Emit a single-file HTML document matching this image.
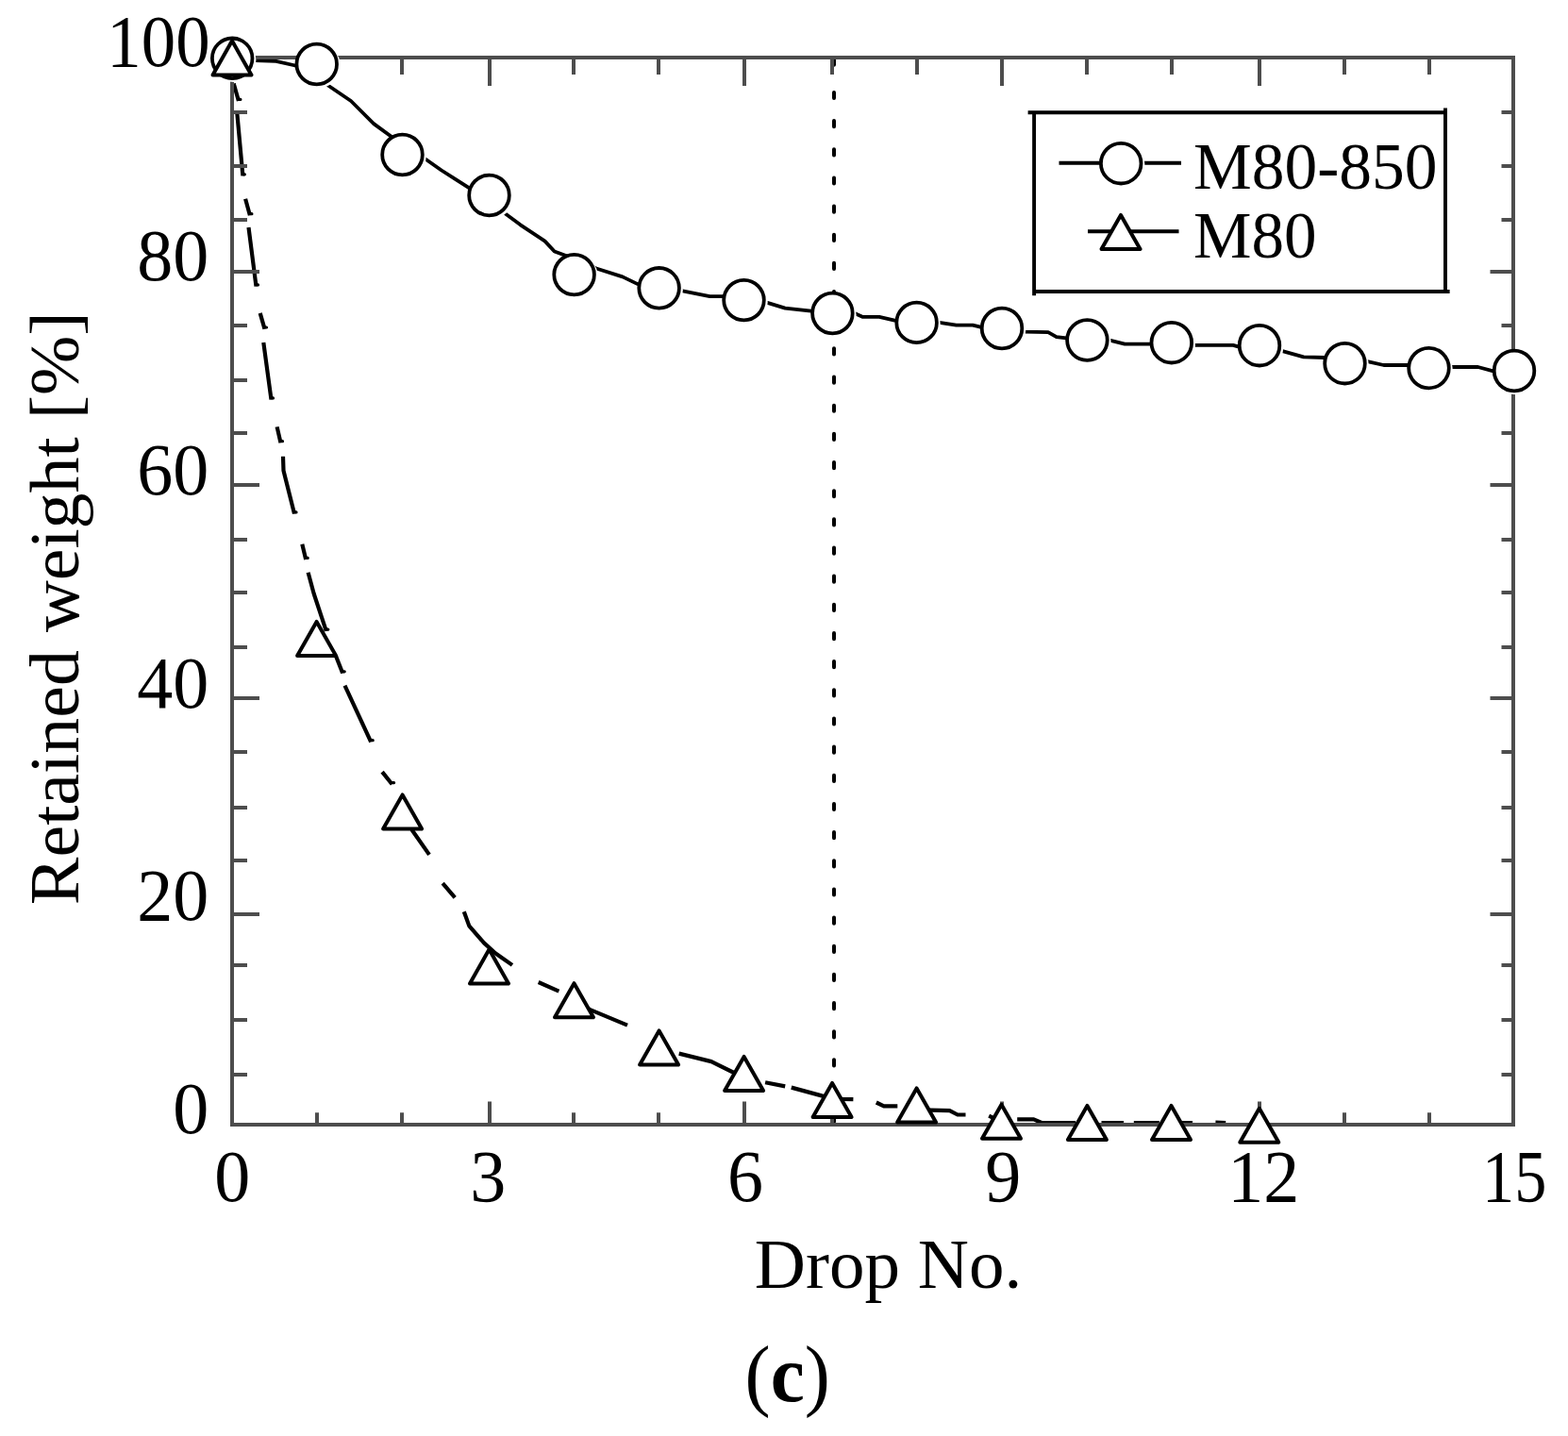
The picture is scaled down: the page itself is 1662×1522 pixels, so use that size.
<!DOCTYPE html>
<html lang="en"><head><meta charset="utf-8"><title>Retained weight vs. Drop No. (c)</title>
<style>html,body{margin:0;padding:0;background:#fff}body{width:1662px;height:1522px;overflow:hidden}svg{display:block}text{font-family:"Liberation Serif","Times New Roman",serif;fill:#000}</style></head><body>
<svg width="1662" height="1522" viewBox="0 0 1662 1522">
<rect width="1662" height="1522" fill="#fff"/>
<path d="M884 63.500 V68.700 M884 97.900 V1189" stroke="#000" stroke-width="4" stroke-linecap="round" stroke-dasharray="6.200 23.960" fill="none"/>
<path d="M246.3 62.5 L270.9 64.1 L292.6 64.9 L313.0 69.5 L335.0 80.0 L347.3 90.2 L372.0 107.0 L396.1 131.1 L414.1 144.3 L430.0 156.0 L450.5 168.3 L467.9 180.5 L483.8 190.6 L497.5 199.3 L517.0 213.0 L535.0 226.0 L551.6 238.3 L577.6 255.6 L587.7 266.5 L599.3 270.8 L615.0 277.0 L632.0 284.5 L659.9 293.4 L675.4 300.9 L700.0 304.0 L723.5 308.4 L752.3 314.1 L766.0 314.1 L790.0 317.0 L813.4 320.9 L832.2 326.6 L859.6 329.6 L883.0 331.0 L905.8 332.1 L914.6 335.9 L932.0 335.9 L948.3 339.6 L972.0 341.0 L997.4 342.1 L1013.6 344.6 L1031.1 344.6 L1039.4 346.6 L1062.0 349.0 L1086.0 351.6 L1111.0 352.1 L1119.8 357.1 L1130.5 358.3 L1152.0 360.0 L1177.2 360.8 L1192.2 364.6 L1219.6 364.6 L1242.0 365.0 L1267.0 365.8 L1307.0 365.8 L1313.3 367.6 L1335.0 369.0 L1359.4 372.1 L1381.8 378.3 L1403.8 379.0 L1425.0 381.0 L1450.5 383.3 L1466.7 387.0 L1493.0 387.0 L1515.0 388.0 L1539.1 389.0 L1566.6 389.0 L1582.8 393.3 L1605.0 393.0" stroke="#000" stroke-width="3.800" fill="none" stroke-linejoin="round"/>
<path d="M247.8 88.5 L248.2 90.2 L252.9 107.0 M251.4 120.9 L257.4 186.4 M260.1 210.8 L264.9 228.3 M263.5 240.9 L271.5 303.5 M275.7 331.8 L280.5 348.6 M279.3 363.0 L287.5 423.5 M293.6 452.4 L297.5 469.3 M300.0 483.7 L300.5 498.8 L312.0 544.5 M320.3 576.7 L324.2 593.0 M326.6 606.8 L332.6 629.0 L341.0 654.3 L345.8 668.8 M356.0 695.2 L363.2 713.4 M365.5 726.7 L393.2 786.3 M405.1 818.1 L415.6 831.2 M429.0 862.0 L436.9 880.0 L455.0 905.9 M469.2 936.1 L482.2 951.3 M491.8 966.2 L497.3 981.4 L513.0 999.4 L525.0 1010.3 L543.0 1022.9 M570.7 1041.0 L592.4 1050.6 M602.0 1058.0 L626.0 1070.4 L665.0 1086.6 M719.7 1116.6 L754.0 1125.1 L778.0 1137.0 M811.1 1147.2 L832.2 1151.4 M838.8 1152.6 L871.9 1161.6 L892.4 1164.9 L904.4 1165.2 M928.8 1168.5 L936.8 1172.4 L951.3 1172.4 M975.0 1176.0 L986.8 1176.6 L1006.6 1177.2 L1015.0 1181.5 L1023.5 1181.5 M1048.2 1182.7 L1054.0 1185.5 M1078.2 1186.3 L1095.7 1186.3 L1104.0 1190.0 L1140.0 1190.0 M1167.5 1190.0 L1191.0 1190.0 M1201.8 1190.0 L1228.8 1190.0 M1252.0 1190.0 L1264.0 1190.0 M1288.4 1189.6 L1299.2 1190.0" stroke="#000" stroke-width="4.200" fill="none" stroke-linejoin="round" stroke-linecap="butt"/>
<path d="M253.4 105.4 h1.5 M257.9 184.8 h1.5 M265.4 226.7 h1.5 M272.0 301.9 h1.5 M281.0 347.0 h1.5 M288.0 421.9 h1.5 M298.0 467.7 h1.5 M312.5 542.9 h1.5 M324.7 591.4 h1.5 M346.3 667.2 h1.5 M363.7 711.8 h1.5 M393.7 784.7 h1.5 M416.1 829.6 h1.5" stroke="#000" stroke-width="3.200" fill="none" stroke-linecap="round"/>
<g stroke="#4d4d4d" fill="none" stroke-linecap="butt" stroke-width="4">
<rect x="246" y="61" width="1358" height="1131"/>
<path d="M336 61 V79 M336 1192 V1179.2 M426 61 V79 M426 1192 V1179.2 M519 61 V91 M519 1192 V1167.4 M608 61 V79 M608 1192 V1179.2 M698 61 V79 M698 1192 V1179.2 M789 61 V91 M789 1192 V1167.4 M882 61 V79 M882 1192 V1179.2 M972 61 V79 M972 1192 V1179.2 M1062 61 V91 M1062 1192 V1167.4 M1152 61 V79 M1152 1192 V1179.2 M1242 61 V79 M1242 1192 V1179.2 M1335 61 V91 M1335 1192 V1167.4 M1425 61 V79 M1425 1192 V1179.2 M1515 61 V79 M1515 1192 V1179.2 M246 119 H262 M1604 119 H1591.5 M246 176 H262 M1604 176 H1591.5 M246 233 H262 M1604 233 H1591.5 M246 288 H275 M1604 288 H1579.5 M246 345 H262 M1604 345 H1591.5 M246 403 H262 M1604 403 H1591.5 M246 459 H262 M1604 459 H1591.5 M246 514 H275 M1604 514 H1579.5 M246 572 H262 M1604 572 H1591.5 M246 628 H262 M1604 628 H1591.5 M246 686 H262 M1604 686 H1591.5 M246 740 H275 M1604 740 H1579.5 M246 797 H262 M1604 797 H1591.5 M246 856 H262 M1604 856 H1591.5 M246 912 H262 M1604 912 H1591.5 M246 969 H275 M1604 969 H1579.5 M246 1023 H262 M1604 1023 H1591.5 M246 1081 H262 M1604 1081 H1591.5 M246 1139 H262 M1604 1139 H1591.5"/>
</g>
<circle cx="248.20" cy="63.80" r="23.200" fill="#fff" stroke="none"/><circle cx="246.20" cy="61.80" r="21.300" fill="#fff" stroke="#000" stroke-width="3.800"/>
<circle cx="337.70" cy="70.00" r="23.200" fill="#fff" stroke="none"/><circle cx="335.70" cy="68.00" r="21.300" fill="#fff" stroke="#000" stroke-width="3.800"/>
<circle cx="428.50" cy="166.00" r="23.200" fill="#fff" stroke="none"/><circle cx="426.50" cy="164.00" r="21.300" fill="#fff" stroke="#000" stroke-width="3.800"/>
<circle cx="520.50" cy="209.00" r="23.200" fill="#fff" stroke="none"/><circle cx="518.50" cy="207.00" r="21.300" fill="#fff" stroke="#000" stroke-width="3.800"/>
<circle cx="610.60" cy="293.10" r="23.200" fill="#fff" stroke="none"/><circle cx="608.60" cy="291.10" r="21.300" fill="#fff" stroke="#000" stroke-width="3.800"/>
<circle cx="700.60" cy="307.30" r="23.200" fill="#fff" stroke="none"/><circle cx="698.60" cy="305.30" r="21.300" fill="#fff" stroke="#000" stroke-width="3.800"/>
<circle cx="790.50" cy="320.10" r="23.200" fill="#fff" stroke="none"/><circle cx="788.50" cy="318.10" r="21.300" fill="#fff" stroke="#000" stroke-width="3.800"/>
<circle cx="884.40" cy="334.00" r="23.200" fill="#fff" stroke="none"/><circle cx="882.40" cy="332.00" r="21.300" fill="#fff" stroke="#000" stroke-width="3.800"/>
<circle cx="973.60" cy="343.90" r="23.200" fill="#fff" stroke="none"/><circle cx="971.60" cy="341.90" r="21.300" fill="#fff" stroke="#000" stroke-width="3.800"/>
<circle cx="1064.00" cy="350.00" r="23.200" fill="#fff" stroke="none"/><circle cx="1062.00" cy="348.00" r="21.300" fill="#fff" stroke="#000" stroke-width="3.800"/>
<circle cx="1154.40" cy="362.50" r="23.200" fill="#fff" stroke="none"/><circle cx="1152.40" cy="360.50" r="21.300" fill="#fff" stroke="#000" stroke-width="3.800"/>
<circle cx="1243.80" cy="365.20" r="23.200" fill="#fff" stroke="none"/><circle cx="1241.80" cy="363.20" r="21.300" fill="#fff" stroke="#000" stroke-width="3.800"/>
<circle cx="1337.00" cy="368.20" r="23.200" fill="#fff" stroke="none"/><circle cx="1335.00" cy="366.20" r="21.300" fill="#fff" stroke="#000" stroke-width="3.800"/>
<circle cx="1427.50" cy="387.20" r="23.200" fill="#fff" stroke="none"/><circle cx="1425.50" cy="385.20" r="21.300" fill="#fff" stroke="#000" stroke-width="3.800"/>
<circle cx="1516.50" cy="392.10" r="23.200" fill="#fff" stroke="none"/><circle cx="1514.50" cy="390.10" r="21.300" fill="#fff" stroke="#000" stroke-width="3.800"/>
<circle cx="1607.00" cy="395.00" r="23.200" fill="#fff" stroke="none"/><circle cx="1605.00" cy="393.00" r="21.300" fill="#fff" stroke="#000" stroke-width="3.800"/>
<path d="M246.00 43.35 l20.50 36.10 h-41.00 z" fill="#fff" stroke="#000" stroke-width="4" stroke-linejoin="round"/>
<path d="M335.60 658.95 l20.50 36.10 h-41.00 z" fill="#fff" stroke="#000" stroke-width="4" stroke-linejoin="round"/>
<path d="M426.60 842.45 l20.50 36.10 h-41.00 z" fill="#fff" stroke="#000" stroke-width="4" stroke-linejoin="round"/>
<path d="M518.50 1006.35 l20.50 36.10 h-41.00 z" fill="#fff" stroke="#000" stroke-width="4" stroke-linejoin="round"/>
<path d="M608.50 1042.15 l20.50 36.10 h-41.00 z" fill="#fff" stroke="#000" stroke-width="4" stroke-linejoin="round"/>
<path d="M698.60 1092.45 l20.50 36.10 h-41.00 z" fill="#fff" stroke="#000" stroke-width="4" stroke-linejoin="round"/>
<path d="M788.60 1119.95 l20.50 36.10 h-41.00 z" fill="#fff" stroke="#000" stroke-width="4" stroke-linejoin="round"/>
<path d="M882.10 1147.95 l20.50 36.10 h-41.00 z" fill="#fff" stroke="#000" stroke-width="4" stroke-linejoin="round"/>
<path d="M971.60 1153.45 l20.50 36.10 h-41.00 z" fill="#fff" stroke="#000" stroke-width="4" stroke-linejoin="round"/>
<path d="M1061.50 1170.75 l20.50 36.10 h-41.00 z" fill="#fff" stroke="#000" stroke-width="4" stroke-linejoin="round"/>
<path d="M1152.40 1171.95 l20.50 36.10 h-41.00 z" fill="#fff" stroke="#000" stroke-width="4" stroke-linejoin="round"/>
<path d="M1241.50 1171.95 l20.50 36.10 h-41.00 z" fill="#fff" stroke="#000" stroke-width="4" stroke-linejoin="round"/>
<path d="M1334.80 1174.75 l20.50 36.10 h-41.00 z" fill="#fff" stroke="#000" stroke-width="4" stroke-linejoin="round"/>
<rect x="1096.100" y="119.300" width="435.900" height="189.700" fill="#fff" stroke="none"/>
<path d="M1089.600 119.300 H1534 M1532 114.600 V311 M1096.100 309 H1536.600 M1096.100 117.400 V313.300" fill="none" stroke="#000" stroke-width="3.900"/>
<path d="M1122.500 172.800 H1252 M1153 245.200 H1249.500" stroke="#000" stroke-width="4" fill="none"/>
<circle cx="1190.20" cy="175.20" r="23.200" fill="#fff" stroke="none"/><circle cx="1188.20" cy="173.20" r="21.300" fill="#fff" stroke="#000" stroke-width="3.800"/>
<path d="M1188.00 227.95 l20.50 36.10 h-41.00 z" fill="#fff" stroke="#000" stroke-width="4" stroke-linejoin="round"/>
<text id="lg1" x="1265" y="199.800" font-size="70" textLength="258.500" lengthAdjust="spacingAndGlyphs">M80-850</text>
<text id="lg2" x="1265" y="273.400" font-size="70" textLength="130.600" lengthAdjust="spacingAndGlyphs">M80</text>
<text class="yl" transform="translate(222.6 70.2) scale(0.934 1)" font-size="78" text-anchor="end">100</text>
<text class="yl" transform="translate(221.3 297.2) scale(0.975 1)" font-size="78" text-anchor="end">80</text>
<text class="yl" transform="translate(221.3 523.8) scale(0.975 1)" font-size="78" text-anchor="end">60</text>
<text class="yl" transform="translate(221.3 749.7) scale(0.975 1)" font-size="78" text-anchor="end">40</text>
<text class="yl" transform="translate(221.3 975.2) scale(0.975 1)" font-size="78" text-anchor="end">20</text>
<text class="yl" transform="translate(221.3 1201.1) scale(0.975 1)" font-size="78" text-anchor="end">0</text>
<text class="xl" transform="translate(246.2 1273.200) scale(0.975 1)" font-size="78" text-anchor="middle">0</text>
<text class="xl" transform="translate(517.2 1273.200) scale(0.975 1)" font-size="78" text-anchor="middle">3</text>
<text class="xl" transform="translate(790 1273.200) scale(0.975 1)" font-size="78" text-anchor="middle">6</text>
<text class="xl" transform="translate(1063.2 1273.200) scale(0.975 1)" font-size="78" text-anchor="middle">9</text>
<text class="xl" transform="translate(1339.2 1273.200) scale(0.975 1)" font-size="78" text-anchor="middle">12</text>
<text class="xl" transform="translate(1605.2 1273.200) scale(0.876 1)" font-size="78" text-anchor="middle">15</text>
<text id="xt" x="941.500" y="1364.700" font-size="75" text-anchor="middle">Drop No.</text>
<text id="yt" transform="translate(83 644.800) rotate(-90) scale(1.020 1)" font-size="74.500" text-anchor="middle">Retained weight [%]</text>
<text id="cap" transform="translate(834.700 1485) scale(0.957 1)" font-size="85" text-anchor="middle">(<tspan font-weight="bold">c</tspan>)</text>
</svg></body></html>
